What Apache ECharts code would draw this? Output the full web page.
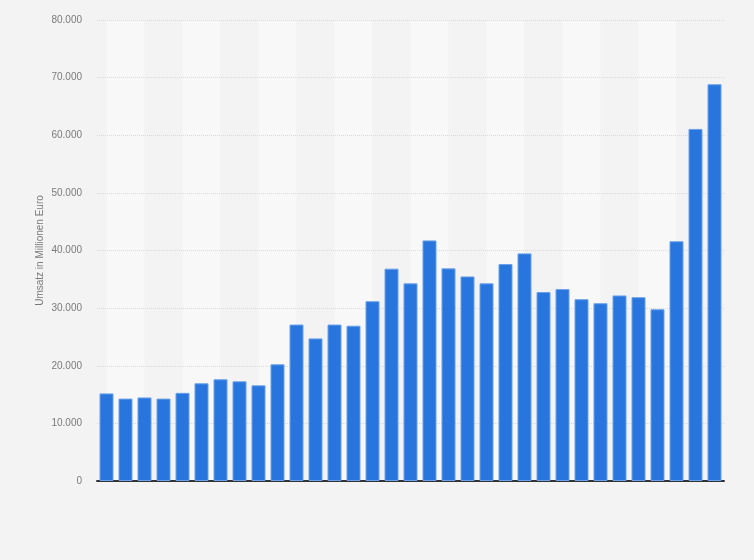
<!DOCTYPE html>
<html>
<head>
<meta charset="utf-8">
<script src="https://cdn.jsdelivr.net/npm/echarts@6/dist/echarts.min.js"></script>
<style>
  html, body { margin: 0; padding: 0; background: #f3f3f3; }
  #chart { width: 754px; height: 560px; }
</style>
</head>
<body>
<div id="chart"></div>
<script>
// Kategorien (keine Beschriftung sichtbar im Original)
var categories = [];
for (var i = 1; i <= 33; i++) categories.push('Jahr ' + i);

// Umsatz in Millionen Euro
var umsatz = [
  15200, 14300, 14500, 14300, 15300, 16950, 17650, 17300, 16600, 20250,
  27150, 24750, 27150, 26950, 31200, 36850, 34300, 41750, 36900, 35500,
  34300, 37650, 39500, 32800, 33300, 31550, 30850, 32200, 31900, 29800,
  41600, 61100, 68850
];

var yTicks = { min: 0, max: 80000, interval: 10000 };

function deFormat(v) {
  return String(v).replace(/\B(?=(\d{3})+(?!\d))/g, '.');
}

var chart = echarts.init(document.getElementById('chart'));
var option = {
  backgroundColor: '#f3f3f3',
  textStyle: { fontFamily: 'Liberation Sans, Arial, sans-serif' },
  grid: { left: 97, right: 30, top: 20, bottom: 79 },
  xAxis: {
    type: 'category',
    data: categories,
    z: 0,
    axisLine: { show: true, lineStyle: { color: '#333333', width: 2 } },
    axisTick: { show: false },
    axisLabel: { show: false },
    splitArea: {
      show: true,
      interval: 1,
      alignWithLabel: true,
      areaStyle: { color: ['#f8f8f8', '#f3f3f3'] }
    }
  },
  yAxis: {
    type: 'value',
    z: 1,
    min: yTicks.min,
    max: yTicks.max,
    interval: yTicks.interval,
    name: 'Umsatz in Millionen Euro',
    nameLocation: 'middle',
    nameGap: 52,
    nameMoveOverlap: false,
    nameTextStyle: { color: '#7a7a7a', fontSize: 10 },
    axisLine: { show: false },
    axisTick: { show: false },
    axisLabel: {
      color: '#7a7a7a',
      fontSize: 10,
      margin: 15,
      formatter: deFormat
    },
    splitLine: {
      showMinLine: false,
      lineStyle: { color: '#d9d9d9', type: 'dotted', width: 1 }
    }
  },
  series: [{
    type: 'bar',
    data: umsatz,
    barWidth: 14,
    z: 3,
    itemStyle: {
      color: '#2876dd',
      borderColor: '#6aa1ea',
      borderWidth: 1
    }
  }]
};
chart.setOption(option);
</script>
</body>
</html>
